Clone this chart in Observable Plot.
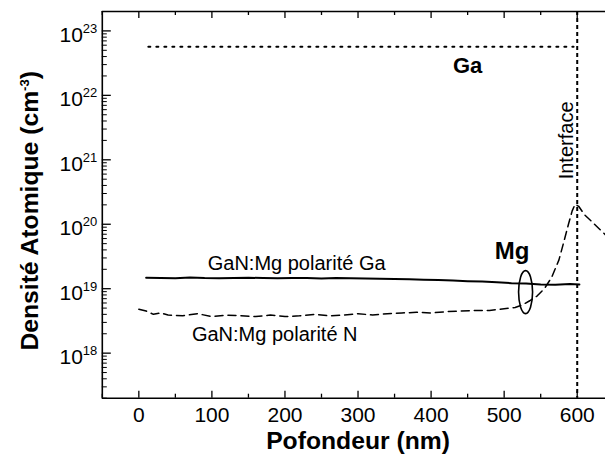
<!DOCTYPE html>
<html>
<head>
<meta charset="utf-8">
<script src="https://cdn.jsdelivr.net/npm/d3@7"></script>
<script src="https://cdn.jsdelivr.net/npm/@observablehq/plot@0.6"></script>
<style>
  html, body { margin: 0; padding: 0; background: #fff; overflow: hidden; }
</style>
</head>
<body>
<div id="chart"></div>
<script>
// ---- Data ----
const gaDepth = [13, 595];
const gaDensity = [5.7e22, 5.7e22];

const mgGaDepth = [10, 30, 50, 70, 90, 110, 130, 150, 170, 190, 210, 230, 250, 270, 290, 310, 330, 350, 370, 390, 410, 430, 450, 470, 490, 510, 530, 550, 570, 590, 603];
const mgGaDensity = [1.48e19, 1.47e19, 1.45e19, 1.49e19, 1.46e19, 1.45e19, 1.47e19, 1.48e19, 1.46e19, 1.45e19, 1.47e19, 1.46e19, 1.44e19, 1.46e19, 1.45e19, 1.44e19, 1.43e19, 1.42e19, 1.40e19, 1.38e19, 1.36e19, 1.34e19, 1.31e19, 1.29e19, 1.26e19, 1.22e19, 1.20e19, 1.16e19, 1.15e19, 1.18e19, 1.16e19];

const mgNDepth = [0, 10, 20, 30, 40, 60, 80, 100, 120, 140, 160, 180, 200, 220, 240, 260, 280, 300, 320, 340, 360, 380, 400, 420, 440, 460, 480, 500, 515, 525, 535, 545, 555, 565, 575, 582, 588, 593, 597, 602, 610, 620, 630, 639];
const mgNDensity = [4.8e18, 4.5e18, 4.0e18, 4.2e18, 3.9e18, 3.8e18, 4.1e18, 3.7e18, 3.9e18, 3.8e18, 3.7e18, 3.9e18, 3.7e18, 3.8e18, 4.0e18, 3.8e18, 3.9e18, 4.1e18, 3.9e18, 4.1e18, 4.2e18, 4.3e18, 4.2e18, 4.4e18, 4.5e18, 4.6e18, 4.6e18, 4.9e18, 5.1e18, 5.6e18, 6.5e18, 7.7e18, 1.0e19, 1.5e19, 2.8e19, 5.5e19, 1.0e20, 1.6e20, 2.05e20, 1.9e20, 1.4e20, 1.1e20, 8.5e19, 6.8e19];

const interfaceDepth = [600];

const xTickValues = [0, 100, 200, 300, 400, 500, 600];
const xTickLabels = ["0", "100", "200", "300", "400", "500", "600"];
const xMinorTicks = [-50, 50, 150, 250, 350, 450, 550];
const yTickValues = [1e18, 1e19, 1e20, 1e21, 1e22, 1e23];
const yTickLabels = ["10^18", "10^19", "10^20", "10^21", "10^22", "10^23"];
const yMinorTicks = [];
for (let e = 17; e <= 22; e++) for (let m = 2; m <= 9; m++) { const v = m * Math.pow(10, e); if (v >= 2e17 && v <= 2e23) yMinorTicks.push(v); }

const xTitle = [{x: 300, text: "Pofondeur (nm)"}];
const yTitle = ["Densité Atomique (cm^-3)"];

const labelGa = {text: "Ga", x: 450, y: 2.9e22};
const labelMg = {text: "Mg", x: 511, y: 3.8e19};
const labelPolGa = {text: "GaN:Mg polarité Ga", x: 216, y: 2.48e19};
const labelPolN = {text: "GaN:Mg polarité N", x: 186, y: 1.93e18};
const labelInterface = {text: "Interface", x: 600, y: 2.0e21};
const ellipseMg = {x: 530, y: 8.7e18};

// ---- Layout ----
const W = 605, H = 457;
const mT = 11, mB = 457 - 397.7, mL = 101.8, mR = 0;
const frameW = W - mL - mR, frameH = H - mT - mB;
const font = "'Liberation Sans', Arial, Helvetica, sans-serif";

const plot = Plot.plot({
  width: W, height: H,
  marginTop: mT, marginBottom: mB, marginLeft: mL, marginRight: mR,
  style: {fontFamily: font, background: "white", overflow: "hidden", color: "black"},
  x: {type: "linear", domain: [-50, 638.7], axis: null},
  y: {type: "log", domain: [2e17, 2e23], axis: null},
  marks: [
    // frame (left, top, bottom)
    Plot.ruleX([-50], {stroke: "black", strokeWidth: 1.6}),
    Plot.ruleY([2e17, 2e23], {stroke: "black", strokeWidth: 1.6}),
    // x ticks bottom (inward) and top (inward)
    Plot.ruleX(xTickValues, {x: d => d, insetTop: frameH - 7, stroke: "black", strokeWidth: 1.3}),
    Plot.ruleX(xMinorTicks, {x: d => d, insetTop: frameH - 4, stroke: "black", strokeWidth: 1.3}),
    Plot.ruleX(xTickValues, {x: d => d, insetBottom: frameH - 7, stroke: "black", strokeWidth: 1.3}),
    Plot.ruleX(xMinorTicks, {x: d => d, insetBottom: frameH - 4, stroke: "black", strokeWidth: 1.3}),
    // y ticks left (inward)
    Plot.ruleY(yTickValues, {y: d => d, insetRight: frameW - 9, stroke: "black", strokeWidth: 1.3}),
    Plot.ruleY(yMinorTicks, {y: d => d, insetRight: frameW - 5, stroke: "black", strokeWidth: 1}),
    // interface
    Plot.ruleX(interfaceDepth, {x: d => d, stroke: "black", strokeWidth: 2, strokeDasharray: "4,3"}),
    // data
    Plot.line(gaDepth, {x: gaDepth, y: gaDensity, stroke: "black", strokeWidth: 2, strokeDasharray: "2,6"}),
    Plot.line(mgGaDepth, {x: mgGaDepth, y: mgGaDensity, stroke: "black", strokeWidth: 2, curve: "linear"}),
    Plot.line(mgNDepth, {x: mgNDepth, y: mgNDensity, stroke: "black", strokeWidth: 1.5, strokeDasharray: "8,5", curve: "linear"}),
    // tick labels
    Plot.text(xTickValues, {x: d => d, text: xTickLabels, frameAnchor: "bottom", lineAnchor: "bottom", dy: 24, fontSize: 21, fill: "black"}),
    Plot.text(yTickValues, {y: d => d, text: yTickLabels, frameAnchor: "left", textAnchor: "end", lineAnchor: "bottom", dx: -5, dy: 11, fontSize: 21, fill: "black"}),
    // axis titles
    Plot.text(xTitle, {x: "x", text: "text", frameAnchor: "bottom", textAnchor: "middle", lineAnchor: "bottom", dy: 51, fontSize: 24.7, fontWeight: "bold", fill: "black"}),
    Plot.text(yTitle, {text: d => d, frameAnchor: "left", textAnchor: "middle", rotate: -90, lineAnchor: "bottom", dx: -64.5, dy: 6, fontSize: 24.7, fontWeight: "bold", fill: "black"}),
    // annotations
    Plot.text([labelGa], {x: "x", y: "y", text: "text", fontSize: 22, fontWeight: "bold", lineAnchor: "middle", fill: "black"}),
    Plot.text([labelMg], {x: "x", y: "y", text: "text", fontSize: 24, fontWeight: "bold", lineAnchor: "middle", fill: "black"}),
    Plot.text([labelPolGa], {x: "x", y: "y", text: "text", fontSize: 20, lineAnchor: "middle", fill: "black"}),
    Plot.text([labelPolN], {x: "x", y: "y", text: "text", fontSize: 20, lineAnchor: "middle", fill: "black"}),
    Plot.text([labelInterface], {x: "x", y: "y", text: "text", fontSize: 20, rotate: -90, lineAnchor: "middle", dx: -11, fill: "black"})
  ]
});

// superscripts: "base^sup rest"
d3.select(plot).selectAll("text").each(function () {
  const t = this.textContent;
  const i = t.indexOf("^");
  if (i < 0) return;
  const m = t.slice(i + 1).match(/^[-\d]+/);
  const sup = m ? m[0] : "";
  const rest = t.slice(i + 1 + sup.length);
  const fs = parseFloat(this.getAttribute("font-size") || getComputedStyle(this).fontSize) || 21;
  const sel = d3.select(this);
  sel.text(null);
  sel.append("tspan").text(t.slice(0, i));
  const shift = Math.round(fs * 0.42);
  sel.append("tspan").attr("dy", -shift).attr("font-size", Math.round(fs * 0.64)).text(sup);
  if (rest) sel.append("tspan").attr("dy", shift).text(rest);
});

// ellipse around Mg curves, positioned with the plot's scales
const sx = plot.scale("x"), sy = plot.scale("y");
d3.select(plot).append("ellipse")
  .attr("cx", sx.apply(ellipseMg.x))
  .attr("cy", sy.apply(ellipseMg.y))
  .attr("rx", 7).attr("ry", 21.5)
  .attr("fill", "none").attr("stroke", "black").attr("stroke-width", 1.6);

document.getElementById("chart").appendChild(plot);
</script>
</body>
</html>
